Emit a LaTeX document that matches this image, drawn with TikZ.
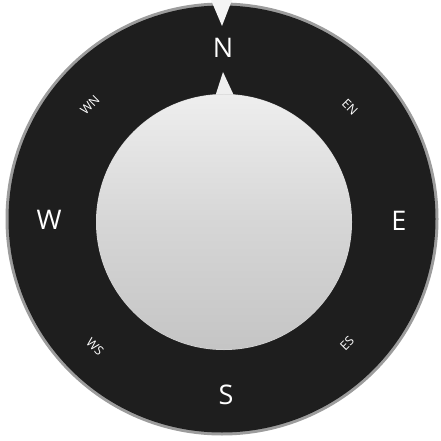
\documentclass[tikz,border=0pt]{standalone}
\usepackage{fontspec}
\setmainfont{Open Sans}
\definecolor{ringdark}{HTML}{1E1E1E}
\definecolor{ringedge}{HTML}{9C9C9C}
\definecolor{facetop}{HTML}{EFEFEF}
\definecolor{facemid}{HTML}{D6D6D6}
\definecolor{facebot}{HTML}{C4C4C4}
\definecolor{notchwhite}{HTML}{F4F4F4}
\begin{document}
\begin{tikzpicture}[x=1pt,y=-1pt,
  bigdir/.style={text=white,font=\fontsize{27}{27}\selectfont,inner sep=0pt},
  smalldir/.style={text=white,font=\fontsize{12.5}{12.5}\selectfont,inner sep=0pt}]
\useasboundingbox[fill=white] (0,0) rectangle (440,441);
% outer ring
\fill[ringedge] (222,219) circle (216.5);
\fill[ringdark] (222,219) circle (213.5);
% top notch
\fill[notchwhite] (211,0) -- (232,0) -- (222,26) -- cycle;
% inner pointer
\fill[facetop] (214,100) -- (223,72) -- (236,100) -- cycle;
% inner face
\fill[facemid] (224,222) circle (128);
\begin{scope}
\clip (224,222) circle (127.5);
\shade[top color=facetop, bottom color=facebot, middle color=facemid] (90,90) rectangle (360,355);
\end{scope}
% labels
\node[bigdir] (N) at (223,48) {N};
\node[bigdir] (E) at (399,221) {E};
\node[bigdir] (S) at (226,395) {S};
\node[bigdir] (W) at (49,220) {W};
\node[smalldir,rotate=45] (WN) at (90,105) {WN};
\node[smalldir,rotate=-45] (EN) at (350,107) {EN};
\node[smalldir,rotate=-45] (WS) at (95,347) {WS};
\node[smalldir,rotate=45] (ES) at (347,343) {ES};
\end{tikzpicture}
\end{document}
